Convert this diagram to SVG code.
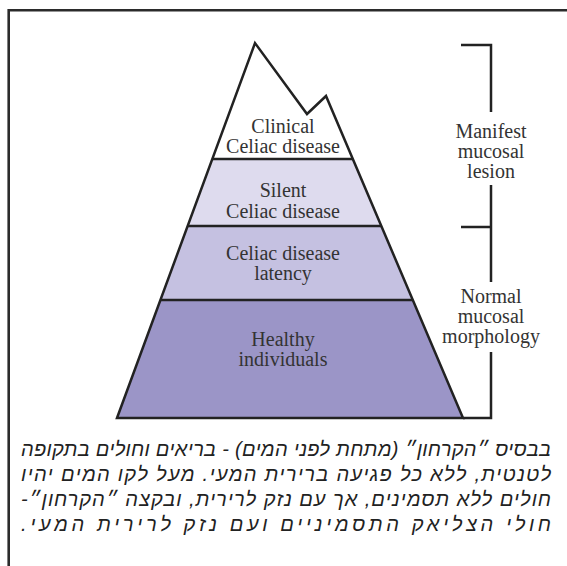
<svg xmlns="http://www.w3.org/2000/svg" width="567" height="566" viewBox="0 0 567 566">
<style>
.lbl{font-family:"Liberation Serif","Times New Roman",serif;font-size:20px;fill:#333;text-anchor:middle}
.edge{fill:none;stroke:#222;stroke-width:2.5;stroke-linejoin:miter}
.heb{font-family:"Liberation Sans","DejaVu Sans",sans-serif;font-size:20px;font-style:italic;fill:#222;direction:rtl;unicode-bidi:embed;text-anchor:middle}
</style>
<rect x="0" y="0" width="567" height="566" fill="#fff"/>
<g id="frame">
<path d="M8.7,566 V10.3 H567" fill="none" stroke="#2b2b2b" stroke-width="2.6"/>
</g>
<g id="layer-clinical">
<text class="lbl" x="283" y="133">Clinical</text>
<text class="lbl" x="283" y="153">Celiac disease</text>
</g>
<g id="layer-silent">
<polygon points="212.6,159 352.8,159 381.3,226 187.8,226" fill="#dedbee"/>
<text class="lbl" x="283" y="197">Silent</text>
<text class="lbl" x="283" y="218">Celiac disease</text>
</g>
<g id="layer-latency">
<polygon points="187.8,226 381.3,226 412.8,300 160.5,300" fill="#c5c1e1"/>
<text class="lbl" x="283" y="260">Celiac disease</text>
<text class="lbl" x="283" y="280">latency</text>
</g>
<g id="layer-healthy">
<polygon points="160.5,300 412.8,300 463,418 117,418" fill="#9b95c7"/>
<text class="lbl" x="283" y="346">Healthy</text>
<text class="lbl" x="283" y="366">individuals</text>
</g>
<g id="connectors">
<path class="edge" d="M117,418 L255,43 L307,114 L326,96 L463,418 Z"/>
<path class="edge" d="M212.6,159 H352.8 M187.8,226 H381.3 M160.5,300 H412.8"/>
<path class="edge" d="M461,45 H491 V112 M491,185 V282 M461,227 H491 M491,352 V418 H463"/>
</g>
<g id="label-manifest">
<text class="lbl" x="491" y="138">Manifest</text>
<text class="lbl" x="491" y="158">mucosal</text>
<text class="lbl" x="491" y="178">lesion</text>
</g>
<g id="label-normal">
<text class="lbl" x="491" y="303">Normal</text>
<text class="lbl" x="491" y="323">mucosal</text>
<text class="lbl" x="491" y="343">morphology</text>
</g>
<g id="caption">
<text class="heb" x="286" y="456" textLength="530" lengthAdjust="spacing">בבסיס ״הקרחון״ (מתחת לפני המים) - בריאים וחולים בתקופה</text>
<text class="heb" x="286" y="481" textLength="530" lengthAdjust="spacing">לטנטית, ללא כל פגיעה ברירית המעי. מעל לקו המים יהיו</text>
<text class="heb" x="286" y="506" textLength="530" lengthAdjust="spacing">חולים ללא תסמינים, אך עם נזק לרירית, ובקצה ״הקרחון״-</text>
<text class="heb" x="286" y="531" textLength="530" lengthAdjust="spacing">חולי הצליאק התסמיניים ועם נזק לרירית המעי.</text>
</g>
</svg>
